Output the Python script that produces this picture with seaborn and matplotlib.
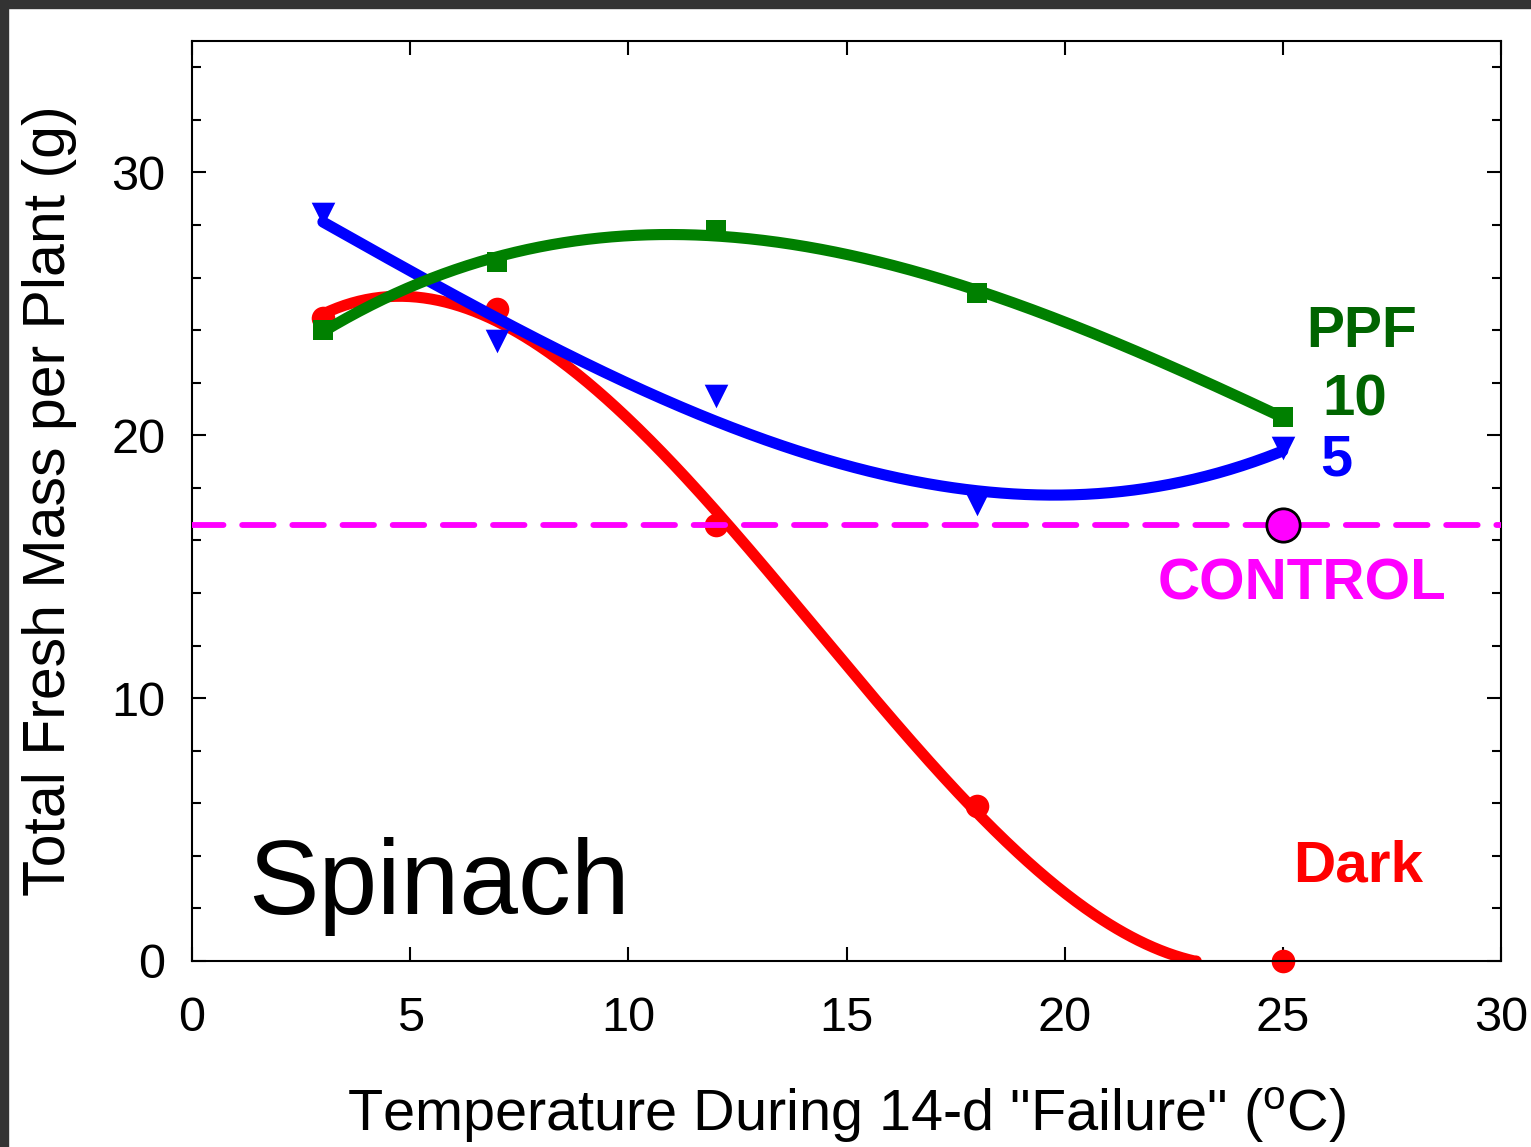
import numpy as np
import pandas as pd
import matplotlib
matplotlib.use("Agg")
import matplotlib.pyplot as plt
import seaborn as sns
from matplotlib.patches import Rectangle
from matplotlib.ticker import MultipleLocator

# ---------------- data ----------------
temps = [3, 7, 12, 18, 25]
dark_mass = [24.45, 24.8, 16.6, 5.9, 0.0]
ppf5_mass = [28.4, 23.6, 21.5, 17.4, 19.5]
ppf10_mass = [24.0, 26.6, 27.8, 25.4, 20.7]
control_temp = [25]
control_mass = [16.6]
series_names = ["Dark", "PPF 5", "PPF 10"]
fit_orders = [3, 3, 3]

# ---------------- style ----------------
sns.set_theme(style="ticks")
plt.rcParams["font.family"] = ["Liberation Sans", "DejaVu Sans"]
plt.rcParams["mathtext.fontset"] = "custom"
plt.rcParams["mathtext.rm"] = "Liberation Sans"
plt.rcParams["mathtext.it"] = "Liberation Sans:italic"
plt.rcParams["text.color"] = "black"
plt.rcParams["axes.labelcolor"] = "black"

RED = "#FF0000"
BLUE = "#0000FF"
GREEN = "#008000"
DKGREEN = "#006400"
MAGENTA = "#FF00FF"
colors = {"Dark": RED, "PPF 5": BLUE, "PPF 10": GREEN}

fig = plt.figure(figsize=(15.31, 11.47), dpi=100)
ax = fig.add_axes([192 / 1531, 1 - 961 / 1147, (1501 - 192) / 1531, (961 - 41) / 1147])

# ---------------- fitted curves (polynomial regression of the data) ----------------
values = {"Dark": dark_mass, "PPF 5": ppf5_mass, "PPF 10": ppf10_mass}
frames = []
for name, order in zip(series_names, fit_orders):
    coef = np.polyfit(temps, values[name], order)
    xs = np.linspace(min(temps), max(temps), 400)
    ys = np.polyval(coef, xs)
    if np.any(ys < 0):
        first_neg = np.argmax(ys < 0)
        xs, ys = xs[:first_neg + 1], np.clip(ys[:first_neg + 1], 0, None)
    frames.append(pd.DataFrame({"temp": xs, "mass": ys, "series": name}))
curves = pd.concat(frames, ignore_index=True)

for i, name in enumerate(series_names):
    sub = curves[curves["series"] == name]
    sns.lineplot(data=sub, x="temp", y="mass", color=colors[name], lw=8,
                 sort=False, estimator=None, ax=ax, zorder=2 + i,
                 solid_capstyle="round")

# ---------------- data markers ----------------
pts = pd.DataFrame({"temp": temps * 3,
                    "mass": dark_mass + ppf5_mass + ppf10_mass,
                    "series": np.repeat(series_names, len(temps))})
marker_spec = {"Dark": ("o", 17), "PPF 5": ("v", 17), "PPF 10": ("s", 15)}
for i, name in enumerate(series_names):
    sub = pts[pts["series"] == name]
    m, ms = marker_spec[name]
    sns.scatterplot(data=sub, x="temp", y="mass", marker=m, s=ms ** 2,
                    color=colors[name], linewidth=0, ax=ax, zorder=2.5 + i,
                    clip_on=False)

# control: dashed reference line + marker
ax.axhline(control_mass[0], color=MAGENTA, lw=4.2, dashes=(5.4, 3.2),
           dash_capstyle="round", zorder=5)
sns.scatterplot(x=control_temp, y=control_mass, marker="o", s=24 ** 2,
                color=MAGENTA, edgecolor="black", linewidth=2, ax=ax, zorder=6)

# ---------------- axes ----------------
ax.set_xlim(0, 30)
ax.set_ylim(0, 35)
ax.xaxis.set_major_locator(MultipleLocator(5))
ax.yaxis.set_major_locator(MultipleLocator(10))
ax.yaxis.set_minor_locator(MultipleLocator(2))
ax.tick_params(which="both", direction="in", top=True, right=True,
               width=1.5, colors="black", labelsize=35)
ax.tick_params(which="major", length=10)
ax.tick_params(which="minor", length=6.5)
ax.tick_params(axis="y", pad=19)
ax.tick_params(axis="x", pad=25)
for sp in ax.spines.values():
    sp.set_linewidth(1.5)
    sp.set_color("black")

ax.set_xlabel(r'Temperature During 14-d "Failure" (${}^{\mathrm{o}}$C)', fontsize=41.5,
              color="black")
ax.set_ylabel("Total Fresh Mass per Plant (g)", fontsize=42.5, color="black")
ax.xaxis.set_label_coords(0.5, (961 - 1115) / 920)
ax.xaxis.label.set_verticalalignment("center")
ax.yaxis.set_label_coords((50 - 192) / 1309, 0.5)
ax.yaxis.label.set_verticalalignment("center")

# ---------------- annotations ----------------
def label(x_px, y_px, text, color, size, weight="bold"):
    ax.text(x_px / 1531, 1 - y_px / 1147, text, color=color, fontsize=size,
            fontweight=weight, ha="center", va="center", transform=fig.transFigure)

label(1362, 332, "PPF", DKGREEN, 41)
label(1355, 400, "10", DKGREEN, 42)
label(1336, 460, "5", BLUE, 41.5)
label(1302, 584, "CONTROL", MAGENTA, 42)
label(1358, 866, "Dark", RED, 42)
ax.text(248 / 1531, 1 - 914 / 1147, "Spinach", color="black", fontsize=76,
        ha="left", va="baseline", transform=fig.transFigure)

# dark frame along top and left edges
fig.patches.append(Rectangle((0, 1 - 8 / 1147), 1, 8 / 1147, transform=fig.transFigure,
                             color="#333333", zorder=10))
fig.patches.append(Rectangle((0, 0), 8 / 1531, 1, transform=fig.transFigure,
                             color="#333333", zorder=10))

fig.savefig("out.png", dpi=100)
